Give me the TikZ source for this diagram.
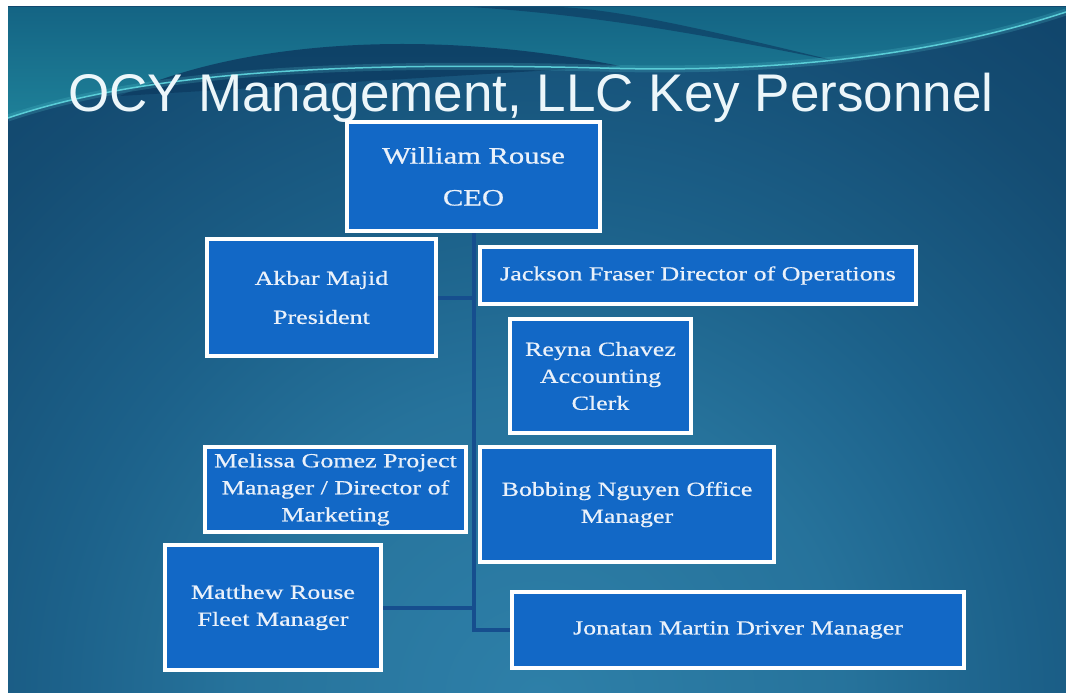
\documentclass[tikz,border=0pt]{standalone}
\usepackage{fontspec}
\newfontfamily\titlefont{Liberation Sans}
\newfontfamily\boxfont{Liberation Serif}[FakeStretch=1.3, FakeBold=0.6]

\definecolor{cardblue}{RGB}{18,104,198}
\definecolor{cardtext}{RGB}{234,241,250}
\definecolor{linkblue}{RGB}{22,78,142}
\definecolor{slidedark}{RGB}{14,62,100}
\definecolor{waveteal}{RGB}{20,100,132}
\definecolor{wavelight}{RGB}{30,128,152}
\definecolor{waveglow}{RGB}{90,205,215}

% soft glow that lightens the lower middle of the slide
\pgfdeclareradialshading{slideglow}{\pgfpoint{0bp}{0bp}}{%
  rgb(0bp)=(0.18,0.50,0.66); rgb(10bp)=(0.15,0.45,0.61);
  rgb(16bp)=(0.11,0.38,0.54); rgb(24bp)=(0.08,0.30,0.45);
  rgb(30bp)=(0.06,0.26,0.41); rgb(50bp)=(0.05,0.22,0.36)}

\pgfdeclarelayer{backdrop}
\pgfdeclarelayer{links}
\pgfsetlayers{backdrop,links,main}

\begin{document}
\begin{tikzpicture}[x=1pt, y=-1pt]

  \tikzset{
    card/.style={draw=white, line width=4pt, fill=cardblue, text=cardtext,
      font=\boxfont\fontsize{20}{27}\selectfont, align=center, inner sep=0pt},
    link/.style={draw=linkblue, line width=4pt},
  }

  \useasboundingbox (0,0) rectangle (1066,695);

  % title
  \node[anchor=base, text={rgb,255:red,236;green,246;blue,250},
    font=\titlefont\fontsize{53}{60}\selectfont] (title) at (531,112)
    {OCY Management, LLC Key Personnel};

  % boxes, top to bottom
  \node[card, minimum width=253pt, minimum height=109pt,
    font=\boxfont\fontsize{23.5}{30}\selectfont] (ceo) at (473.5,176.5)
    {William Rouse\\[12pt] CEO};
  \node[card, minimum width=229pt, minimum height=117pt] (akbar) at (321.5,297.5)
    {Akbar Majid\\[12pt] President};
  \node[card, minimum width=436pt, minimum height=57pt] (jackson) at (698,275.5)
    {Jackson Fraser Director of Operations};
  \node[card, minimum width=181pt, minimum height=114pt] (reyna) at (600.5,376)
    {Reyna Chavez\\ Accounting\\ Clerk};
  \node[card, minimum width=261pt, minimum height=85pt] (melissa) at (335.5,489.5)
    {Melissa Gomez Project\\ Manager / Director of\\ Marketing};
  \node[card, minimum width=294pt, minimum height=115pt] (bobbing) at (627,504.5)
    {Bobbing Nguyen Office\\ Manager};
  \node[card, minimum width=216pt, minimum height=125pt] (matthew) at (273,607.5)
    {Matthew Rouse\\ Fleet Manager};
  \node[card, minimum width=452pt, minimum height=76pt] (jonatan) at (738,630)
    {Jonatan Martin Driver Manager};

  % connectors, under the boxes
  \begin{pgfonlayer}{links}
    \draw[link] (ceo.south) |- (jonatan.west);
    \draw[link] (akbar.east) -- (akbar.east -| ceo.south);
    \draw[link] (matthew.east) -- (matthew.east -| ceo.south);
  \end{pgfonlayer}

  % slide background with the wave across the top
  \begin{pgfonlayer}{backdrop}
    \fill[white] (0,0) rectangle (1066,695);
    \begin{scope}
      \clip (8,7) rectangle (1066,692);
      \shade[shading=slideglow] (-220,-60) rectangle (1300,1460);
      \shade[top color=waveteal, bottom color=wavelight]
        (8,7) -- (1066,7) -- (1066,12)
        .. controls (950,50) and (800,74) .. (600,68)
        .. controls (350,62) and (150,70) .. (8,118) -- cycle;
      \fill[slidedark, opacity=.9] (120,96) .. controls (240,40) and (430,28) .. (620,66) -- cycle;
      \fill[slidedark, opacity=.7] (470,7) .. controls (600,15) and (720,38) .. (840,62)
        .. controls (700,28) and (620,10) .. (560,7) -- cycle;
      \draw[waveglow, line width=7pt, opacity=.2]
        (8,118) .. controls (150,70) and (350,62) .. (600,68)
        .. controls (800,74) and (950,50) .. (1066,12);
      \draw[waveglow, line width=1.5pt]
        (8,118) .. controls (150,70) and (350,62) .. (600,68)
        .. controls (800,74) and (950,50) .. (1066,12);
    \end{scope}
  \end{pgfonlayer}

\end{tikzpicture}
\end{document}
